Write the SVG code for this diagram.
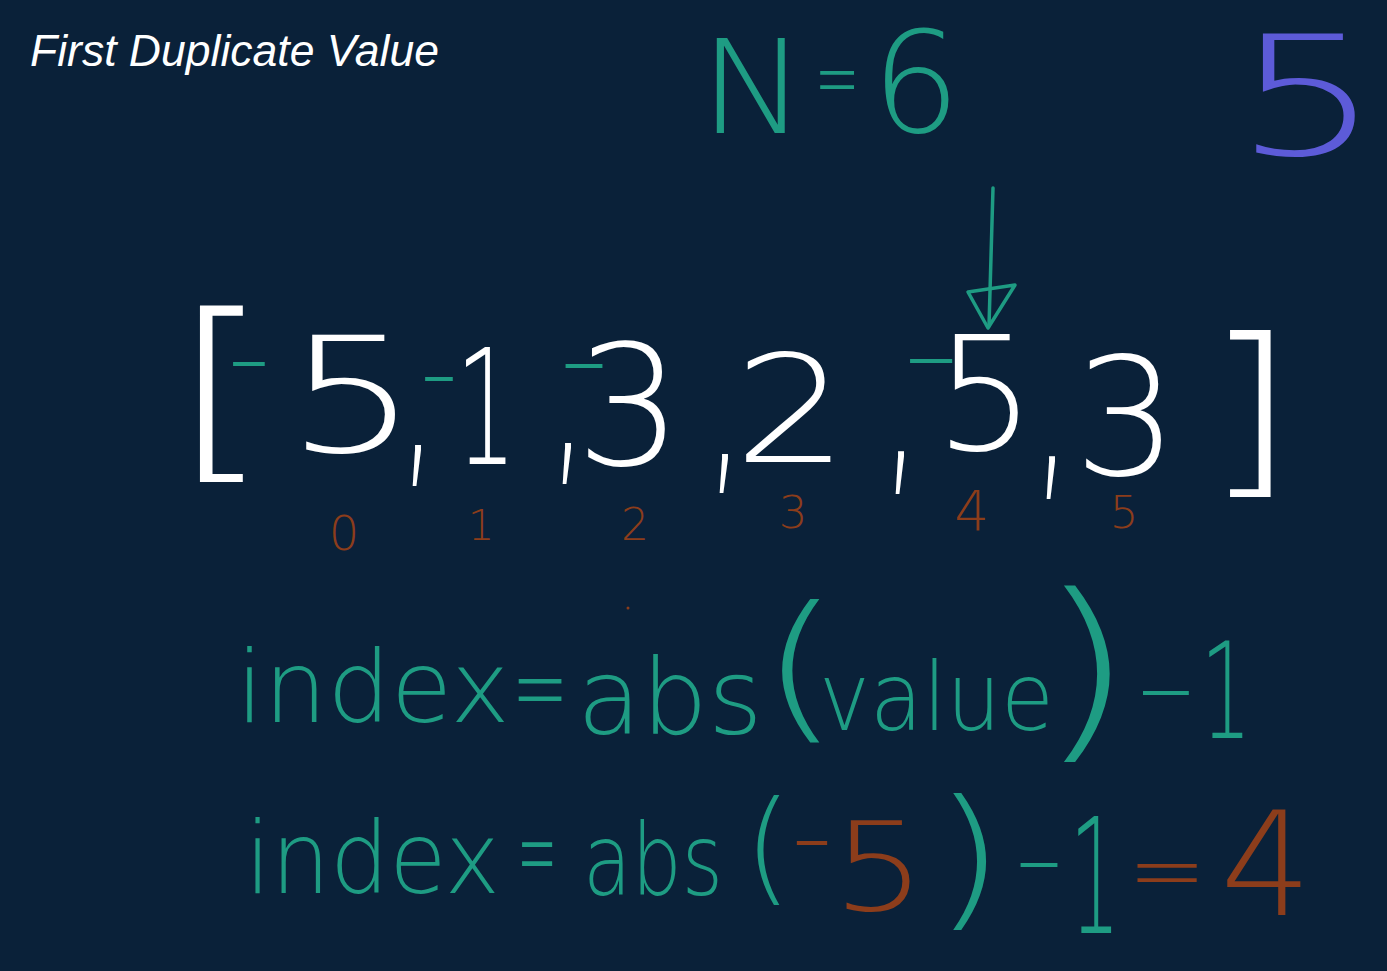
<svg xmlns="http://www.w3.org/2000/svg" width="1387" height="971" viewBox="0 0 1387 971">
<style>
.title{font-family:"Liberation Sans",Arial,sans-serif;font-style:italic;font-size:44.5px;fill:#ffffff}
.hw{font-family:"DejaVu Sans","Noto Sans",sans-serif;font-weight:200;text-anchor:middle}
.hl{font-family:"DejaVu Sans","Noto Sans",sans-serif;font-weight:200}
.w{fill:#ffffff}
.t{fill:#1e9c83}
.b{fill:#8c3d1b}
.p{fill:#5d5bd8}
.stk{fill:none;stroke:#1e9c83;stroke-width:3.5;stroke-linecap:round;stroke-linejoin:round}
</style>
<rect x="0" y="0" width="1387" height="971" fill="#0a2139"/>
<g id="title">
<text class="title" x="30" y="66">First Duplicate Value</text>
</g>
<g id="n-equals-6">
<text class="hw t" font-size="130" transform="translate(753,133) scale(1.1,1)">N</text>
<text class="hw t" font-size="90" transform="translate(837,109) scale(0.6,1)">=</text>
<text class="hw t" font-size="140" transform="translate(916,132)">6</text>
</g>
<g id="current-value">
<text class="hw p" font-size="165" transform="translate(1307,155) scale(1.4,1)">5</text>
</g>
<g id="array">
<text class="hw w" font-size="198" transform="translate(221,456) scale(1.3,1)">[</text>
<text class="hw t" font-size="100" transform="translate(249,391) scale(1.2,1)">-</text>
<text class="hw w" font-size="160" transform="translate(352,452) scale(1.3,1)">5</text>
<text class="hw w" font-size="200" transform="translate(418,459) scale(0.6,1.15)">,</text>
<text class="hw t" font-size="100" transform="translate(439,406) scale(1.05,1)">-</text>
<text class="hw w" font-size="160" transform="translate(486,464) scale(0.6,1)">1</text>
<text class="hw w" font-size="200" transform="translate(568,457) scale(0.6,1.15)">,</text>
<text class="hw t" font-size="100" transform="translate(584,393) scale(1.4,1)">-</text>
<text class="hw w" font-size="168" transform="translate(629,465)">3</text>
<text class="hw w" font-size="200" transform="translate(725,467) scale(0.6,1.1)">,</text>
<text class="hw w" font-size="150" transform="translate(791,462) scale(1.2,1)">2</text>
<text class="hw w" font-size="200" transform="translate(901,466) scale(0.6,1.2)">,</text>
<text class="hw t" font-size="100" transform="translate(931,388) scale(1.6,1)">-</text>
<text class="hw w" font-size="158" transform="translate(985,450)">5</text>
<text class="hw w" font-size="200" transform="translate(1052,471) scale(0.6,1.2)">,</text>
<text class="hw w" font-size="164" transform="translate(1126,475)">3</text>
<text class="hw w" font-size="187" transform="translate(1250,472) scale(1.3,1)">]</text>
</g>
<g id="indices">
<text class="hw b" font-size="48" transform="translate(344,550)">0</text>
<text class="hw b" font-size="42" transform="translate(481,540)">1</text>
<text class="hw b" font-size="44" transform="translate(635,540)">2</text>
<text class="hw b" font-size="45" transform="translate(793,528)">3</text>
<text class="hw b" font-size="55" transform="translate(972,530)">4</text>
<text class="hw b" font-size="45" transform="translate(1124,528)">5</text>
</g>
<g id="formula-general">
<text class="hl t" font-size="100" x="236" y="722">index</text>
<text class="hw t" font-size="110" transform="translate(540,725) scale(0.62,1)">=</text>
<text class="hl t" font-size="105" x="577" y="734">abs</text>
<text class="hw t" font-size="161" transform="translate(800,721) scale(1.3,1)">(</text>
<text class="hl t" font-size="95" x="819" y="730" textLength="235" lengthAdjust="spacingAndGlyphs">value</text>
<text class="hw t" font-size="198" transform="translate(1086,736) scale(1.3,1)">)</text>
<text class="hw t" font-size="100" transform="translate(1166,720) scale(1.74,1)">-</text>
<text class="hw t" font-size="134" transform="translate(1226,738) scale(0.6,1)">1</text>
<circle cx="628" cy="608" r="1.5" fill="#8c3d1b"/>
</g>
<g id="formula-example">
<text class="hl t" font-size="100" x="245" y="893" textLength="255" lengthAdjust="spacingAndGlyphs">index</text>
<text class="hw t" font-size="120" transform="translate(537,892) scale(0.4,1)">=</text>
<text class="hl t" font-size="100" x="583" y="895" textLength="140" lengthAdjust="spacingAndGlyphs">abs</text>
<text class="hw t" font-size="123" transform="translate(768,889)">(</text>
<text class="hw b" font-size="100" transform="translate(812,870) scale(1.15,1)">-</text>
<text class="hw b" font-size="123" transform="translate(879,910) scale(1.2,1)">5</text>
<text class="hw t" font-size="154" transform="translate(969,910) scale(1.2,1)">)</text>
<text class="hw t" font-size="100" transform="translate(1039,892) scale(1.4,1)">-</text>
<text class="hw t" font-size="160" transform="translate(1095,933) scale(0.5,1)">1</text>
<text class="hw b" font-size="90" transform="translate(1167,902) scale(1.05,1)">=</text>
<text class="hw b" font-size="144" transform="translate(1266,915)">4</text>
</g>
<g id="connectors">
<path class="stk" d="M993,188 L989,326"/>
<path class="stk" d="M968,292 L1015,285 L988,328 Z"/>
</g>
</svg>
